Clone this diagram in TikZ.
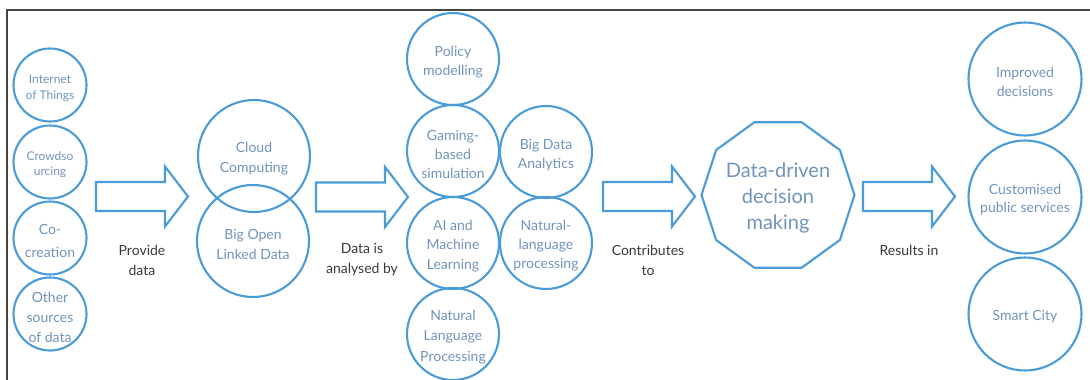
\documentclass[tikz,border=0pt]{standalone}
\usepackage{fontspec}
\setmainfont{Lato}
\usetikzlibrary{shapes.geometric}
\definecolor{cblue}{HTML}{4A9BD6}
\definecolor{ctext}{HTML}{6F94BC}
\definecolor{ldark}{HTML}{3A3A3A}
\definecolor{frame}{HTML}{444444}
\tikzset{
  circ/.style={circle, draw=cblue, line width=2.1pt, inner sep=0pt, minimum size=#1},
  ctxt/.style={text=ctext, align=center, inner sep=0pt},
  fs/.style 2 args={font=\fontsize{#1}{#2}\selectfont},
  lbl/.style={text=ldark, align=center, font=\fontsize{14}{20}\selectfont},
  arrowline/.style={draw=cblue, line width=2.1pt, line join=miter},
  bigarrow/.pic={\draw[arrowline] (0,-14.5) -- (69,-14.5) -- (69,-30) -- (92,0) -- (69,30) -- (69,14.5) -- (0,14.5) -- cycle;}
}
% \bub{name}{position}{diameter}{font size}{baselineskip}{text}
\newcommand\bub[6]{%
  \node[circ=#3] (#1) at #2 {};
  \node[ctxt, fs={#4}{#5}] (#1-t) at ([yshift=-3pt]#1.center) {#6};
}
\begin{document}
\begin{tikzpicture}[x=1pt,y=-1pt]
\useasboundingbox (0,0) rectangle (1090,380);
\draw[frame, line width=1.2pt] (7,380) -- (7,10) -- (1090,10);
% left column
\bub{iot}{(50,85)}{73pt}{12}{16}{Internet\\of Things}
\bub{crowd}{(50,162)}{73pt}{12}{15}{Crowdso\\urcing}
\bub{cocre}{(50,238)}{73pt}{14}{23}{Co-\\creation}
\bub{other}{(50,314)}{73pt}{14}{20}{Other\\sources\\of data}
% second column
\bub{cloud}{(254,156)}{112pt}{14}{20}{Cloud\\Computing}
\bub{bold}{(253,241)}{112pt}{14}{20}{Big Open\\Linked Data}
% analysis
\bub{policy}{(453,59)}{92pt}{14}{19}{Policy\\modelling}
\bub{gaming}{(453,151)}{92pt}{14}{19}{Gaming-\\based\\simulation}
\bub{ai}{(453,243)}{92pt}{14}{19.5}{AI and\\Machine\\Learning}
\bub{nlp}{(453,334)}{92pt}{14}{20.5}{Natural\\Language\\Processing}
\bub{bda}{(546,152)}{92pt}{14}{19}{Big Data\\Analytics}
\bub{nlp2}{(546,243)}{92pt}{14}{19}{Natural-\\language\\processing}
% decision
\node[regular polygon, regular polygon sides=10, draw=cblue, line width=2.1pt, inner sep=0pt, minimum size=153pt] (ddm) at (778,195) {};
\node[ctxt, fs={20}{26}] (ddm-t) at ([yshift=-3pt]ddm.center) {Data-driven\\decision\\making};
% results
\bub{imp}{(1025,79)}{113pt}{14}{19}{Improved\\decisions}
\bub{cust}{(1025,197)}{113pt}{14}{18}{Customised\\public services}
\bub{smart}{(1025,314)}{113pt}{14}{19}{Smart City}
% arrows
\pic at (96,196.5) {bigarrow};
\pic at (316,197) {bigarrow};
\pic at (603,196.5) {bigarrow};
\pic at (863,196.5) {bigarrow};
% labels
\node[lbl] (l1) at (142,260) {Provide\\data};
\node[lbl] (l2) at (362,260) {Data is\\analysed by};
\node[lbl] (l3) at (648,260) {Contributes\\to};
\node[lbl] (l4) at (909,250) {Results in};
\end{tikzpicture}
\end{document}
